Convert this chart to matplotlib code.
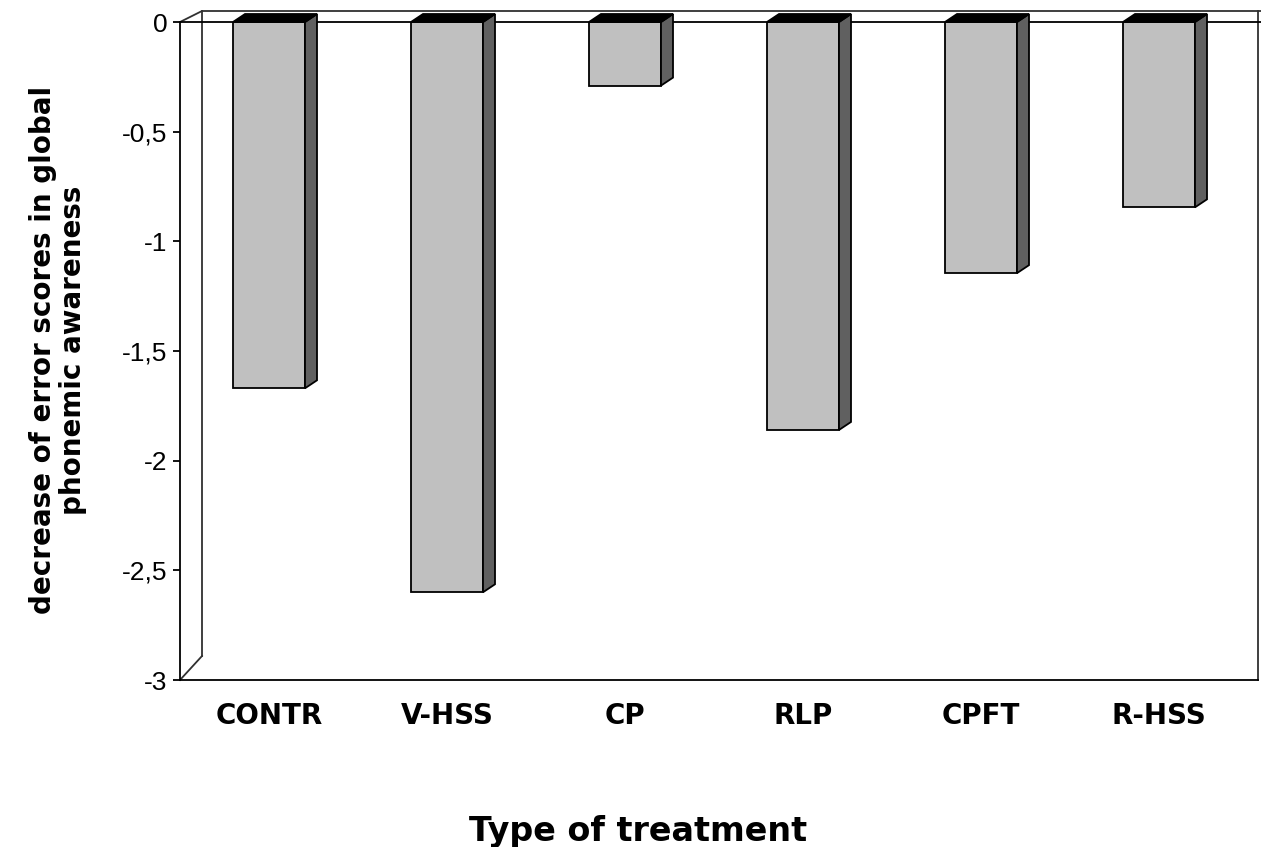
import matplotlib
matplotlib.use("Agg")
import matplotlib.pyplot as plt
from matplotlib.patches import Polygon, Rectangle
from matplotlib.lines import Line2D

plt.rcParams["font.family"] = ["Liberation Sans", "DejaVu Sans"]
BOLD = ["DejaVu Sans"]

categories = ["CONTR", "V-HSS", "CP", "RLP", "CPFT", "R-HSS"]
values = [-1.67, -2.6, -0.29, -1.86, -1.145, -0.845]
yticks = [0, -0.5, -1, -1.5, -2, -2.5, -3]
ytick_labels = ["0", "-0,5", "-1", "-1,5", "-2", "-2,5", "-3"]

W, H = 1261, 847
fig = plt.figure(figsize=(W / 100, H / 100), dpi=100)
ax = fig.add_axes([180 / W, (H - 680) / H, (1258 - 180) / W, (680 - 22) / H])
ax.set_xlim(-0.5, -0.5 + 1078 / 178)
ax.set_ylim(-3, 0)
for s in ax.spines.values():
    s.set_visible(False)
for side in ("left", "bottom"):
    ax.spines[side].set_visible(True)
    ax.spines[side].set_linewidth(1.3)


def px(dx, dy):
    """pixel offset -> data offset"""
    inv = ax.transData.inverted()
    x0, y0 = inv.transform((0, 0))
    x1, y1 = inv.transform((dx, dy))
    return x1 - x0, y1 - y0


x0, x1 = ax.get_xlim()
wx, wy = px(22, 11)
fx, fy = px(0, 24)
ex, _ = px(3, 0)
# back wall
kw = dict(color="#303030", lw=1.3, clip_on=False, zorder=1)
ax.add_line(Line2D([x0, x0 + wx, x1 + ex], [0, wy, wy], **kw))
ax.add_line(Line2D([x0 + wx, x0 + wx], [wy, -3 + fy], **kw))
ax.add_line(Line2D([x0, x0 + wx], [-3, -3 + fy], **kw))
ax.add_line(Line2D([x1, x1], [wy, -3], **kw))
# front zero line
ax.add_line(Line2D([x0, x1 + ex], [0, 0], color="black", lw=1.3,
                   clip_on=False, zorder=2))

bw = 72 / 178
dx, dy = px(12, 8)
for i, v in enumerate(values):
    l, r = i - bw / 2, i + bw / 2
    ax.add_patch(Rectangle((l, v), bw, -v, facecolor="#c0c0c0",
                           edgecolor="black", lw=1.3, zorder=3))
    ax.add_patch(Polygon([(r, v), (r, 0), (r + dx, dy), (r + dx, v + dy)],
                         closed=True, facecolor="#606060", edgecolor="black",
                         lw=1.3, zorder=3, clip_on=False))
    ax.add_patch(Polygon([(l, 0), (r, 0), (r + dx, dy), (l + dx, dy)],
                         closed=True, facecolor="black", edgecolor="black",
                         lw=1.3, zorder=3, clip_on=False))

ax.set_yticks(yticks)
ax.set_yticklabels(ytick_labels, fontsize=19)
ax.tick_params(axis="y", length=5, width=1.3, pad=4)
ax.set_xticks(range(len(categories)))
ax.set_xticklabels(categories, fontsize=20, fontweight="bold", family=BOLD)
ax.tick_params(axis="x", length=0, pad=16)

fig.text(58 / W, 1 - 350 / H,
         "decrease of error scores in global\nphonemic awareness",
         rotation=90, ha="center", va="center", fontsize=20,
         fontweight="bold", family=BOLD, linespacing=1.05)
fig.text(638 / W, 1 - 841 / H, "Type of treatment", ha="center",
         va="baseline", fontsize=24, fontweight="bold", family=BOLD)

fig.savefig("out.png", dpi=100)
